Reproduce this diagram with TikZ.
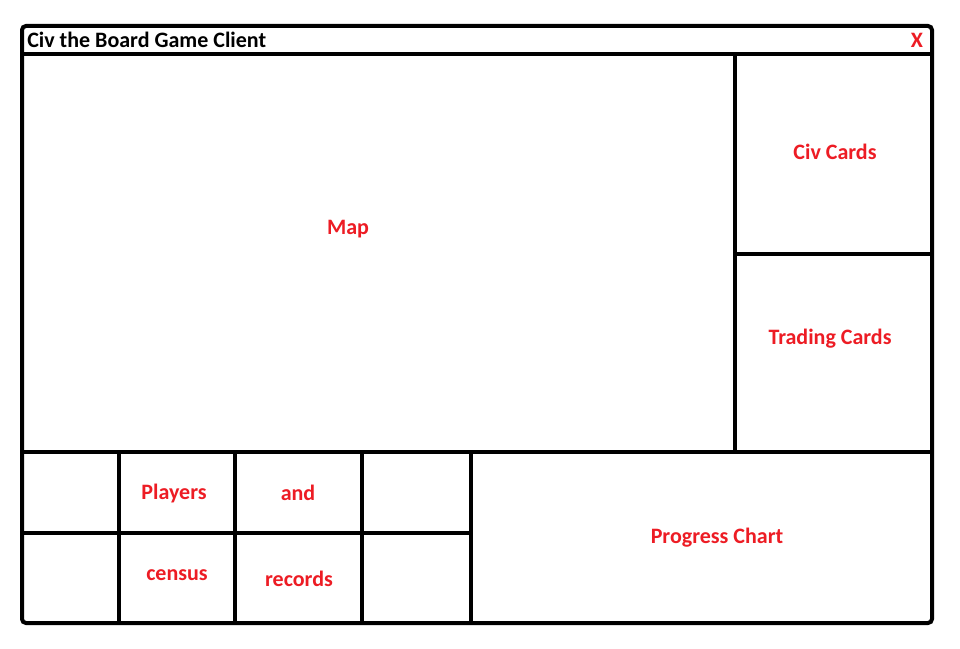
\documentclass[tikz,border=0pt]{standalone}
\usepackage{fontspec}
\setmainfont{Carlito}
\definecolor{paintred}{RGB}{237,28,36}
\begin{document}
\begin{tikzpicture}[x=0.75pt,y=-0.75pt,
  frame/.style={draw=black,line width=3pt},
  lbl/.style={text=paintred,font=\bfseries\fontsize{16.5}{19}\selectfont,inner sep=0pt},
  ttl/.style={text=black,font=\bfseries\fontsize{16.5}{19}\selectfont,inner sep=0pt,anchor=west}]
\useasboundingbox (0,0) rectangle (960,649);
\fill[white] (0,0) rectangle (960,649);
% outer frame
\draw[frame,rounded corners=3pt] (22,26) rectangle (932,623);
% title bar separator
\draw[frame] (22,54) -- (932,54);
% map / side divider
\draw[frame] (735,54) -- (735,452);
\draw[frame] (735,254) -- (932,254);
% bottom area
\draw[frame] (22,452) -- (932,452);
\draw[frame] (22,533) -- (471,533);
\draw[frame] (119,452) -- (119,623);
\draw[frame] (235,452) -- (235,623);
\draw[frame] (362,452) -- (362,623);
\draw[frame] (471,452) -- (471,623);
% texts
\node[ttl] (title) at (27,40) {Civ the Board Game Client};
\node[lbl] (close) at (917,40) {X};
\node[lbl] (map) at (348,229) {Map};
\node[lbl] (civ) at (835,152) {Civ Cards};
\node[lbl] (trade) at (830,339) {Trading Cards};
\node[lbl] (players) at (174,494) {Players};
\node[lbl] (and) at (298,493) {and};
\node[lbl] (census) at (177,575) {census};
\node[lbl] (records) at (299,579) {records};
\node[lbl] (progress) at (717,538) {Progress Chart};
\end{tikzpicture}
\end{document}
